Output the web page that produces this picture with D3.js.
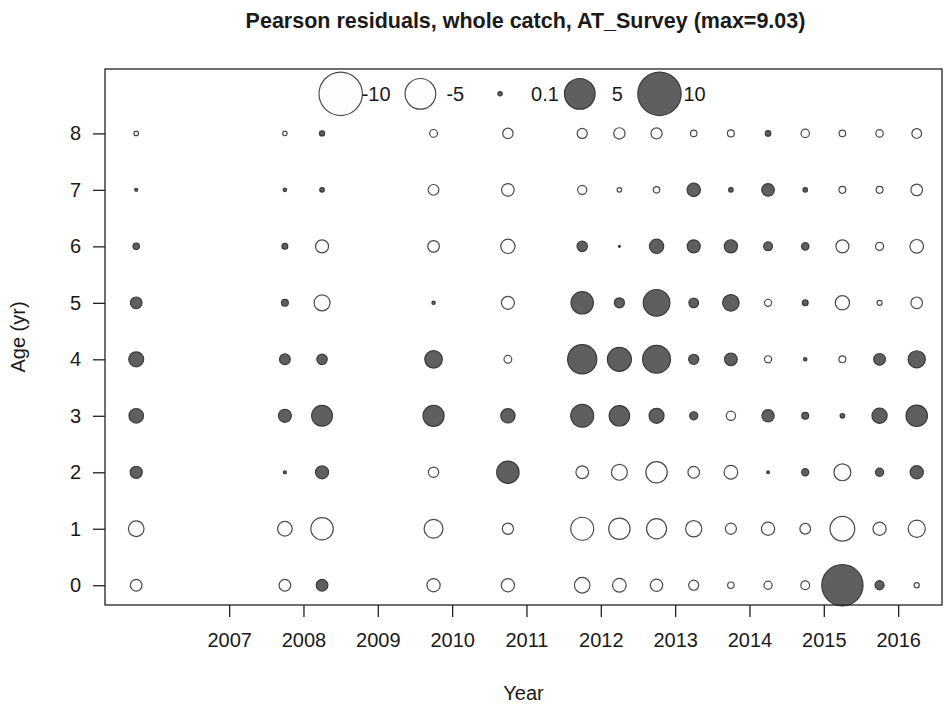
<!DOCTYPE html>
<html>
<head>
<meta charset="utf-8">
<script src="https://cdn.jsdelivr.net/npm/d3@7"></script>
<style>
  html, body { margin: 0; padding: 0; background: #fff; }
  svg text { font-family: "Liberation Sans", Arial, sans-serif; fill: #1a1a1a; }
</style>
</head>
<body>
<svg id="chart" width="944" height="706"></svg>
<script>
// Survey sampling times (year + season fraction) and ages
const sampleTimes = [2005.75, 2007.75, 2008.25, 2009.75, 2010.75, 2011.75, 2012.25,
                     2012.75, 2013.25, 2013.75, 2014.25, 2014.75, 2015.25, 2015.75, 2016.25];
const ages = [0, 1, 2, 3, 4, 5, 6, 7, 8];
const yearTicks = [2007, 2008, 2009, 2010, 2011, 2012, 2013, 2014, 2015, 2016];

// Pearson residuals by age, one value per sampling time
const resAge0 = [-0.72, -0.72, 0.72, -0.93, -0.93, -1.29, -0.99, -0.80, -0.54, -0.22, -0.35, -0.41, 9.03, 0.44, -0.14];
const resAge1 = [-1.29, -1.13, -2.66, -1.89, -0.68, -2.80, -2.43, -2.14, -1.39, -0.65, -0.93, -0.61, -3.24, -0.93, -1.56];
const resAge2 = [0.77, 0.05, 0.90, -0.57, 2.66, -0.85, -1.35, -2.43, -0.72, -0.99, 0.04, 0.27, -1.52, 0.35, 0.93];
const resAge3 = [1.13, 0.90, 2.30, 2.35, 1.08, 2.80, 2.22, 1.19, 0.35, -0.46, 0.80, 0.25, 0.11, 1.22, 2.43];
const resAge4 = [1.19, 0.61, 0.57, 1.63, -0.32, 4.53, 3.05, 4.13, 0.54, 0.85, -0.27, 0.06, -0.25, 0.72, 1.56];
const resAge5 = [0.72, 0.25, -1.35, 0.06, -0.90, 2.66, 0.54, 3.77, 0.50, 1.45, -0.27, 0.18, -1.08, -0.13, -0.72];
const resAge6 = [0.22, 0.18, -0.90, -0.72, -1.08, 0.57, 0.02, 1.08, 0.90, 0.93, 0.41, 0.29, -0.90, -0.35, -0.99];
const resAge7 = [0.05, 0.06, 0.11, -0.61, -0.85, -0.44, -0.11, -0.22, 0.95, 0.11, 0.85, 0.11, -0.25, -0.25, -0.72];
const resAge8 = [-0.11, -0.10, 0.14, -0.32, -0.57, -0.54, -0.68, -0.65, -0.22, -0.25, 0.16, -0.37, -0.22, -0.29, -0.50];

// Legend reference residuals
const legendValues = [-10, -5, 0.1, 5, 10];
const legendLabels = ["-10", "-5", "0.1", "5", "10"];

const titleText = "Pearson residuals, whole catch, AT_Survey (max=9.03)";

// ---- build long table ----
const byAge = [resAge0, resAge1, resAge2, resAge3, resAge4, resAge5, resAge6, resAge7, resAge8];
const cells = [];
ages.forEach((a, i) => {
  sampleTimes.forEach((t, j) => cells.push({ time: t, age: a, value: byAge[i][j] }));
});

// ---- layout ----
const plot = { left: 105, right: 942, top: 69, bottom: 605 };
const svg = d3.select("#chart");
svg.append("rect").attr("width", 944).attr("height", 706).attr("fill", "#fff");

const x = d3.scaleLinear().domain([2005.33, 2016.59]).range([plot.left, plot.right]);
const y = d3.scaleLinear().domain([-0.35, 9.14]).range([plot.bottom, plot.top]);
const r = d3.scaleSqrt().domain([0, 10]).range([0, 21.7]);

const posFill = "#5f5f5f", posStroke = "#3a3a3a";
const negFill = "#fdfdfd", negStroke = "#4a4a4a";

// bubbles
svg.append("g").selectAll("circle")
  .data(cells)
  .join("circle")
  .attr("cx", d => x(d.time))
  .attr("cy", d => y(d.age))
  .attr("r", d => Math.max(r(Math.abs(d.value)), 0.6))
  .attr("fill", d => d.value > 0 ? posFill : negFill)
  .attr("stroke", d => d.value > 0 ? posStroke : negStroke)
  .attr("stroke-width", 1.2);

// legend
const legendY = y(8.7);
const legendX0 = 340.7, legendStep = 79.7;
const legendTextDx = [21, 26, 31, 32, 24];
const lg = svg.append("g");
legendValues.forEach((v, i) => {
  const cx = legendX0 + i * legendStep;
  lg.append("circle")
    .attr("cx", cx).attr("cy", legendY)
    .attr("r", r(Math.abs(v)))
    .attr("fill", v > 0 ? posFill : negFill)
    .attr("stroke", v > 0 ? posStroke : negStroke)
    .attr("stroke-width", 1.2);
  lg.append("text")
    .attr("x", cx + legendTextDx[i]).attr("y", legendY)
    .attr("dy", "0.35em")
    .attr("font-size", 20)
    .text(legendLabels[i]);
});

// axes
const xAxis = d3.axisBottom(x).tickValues(yearTicks).tickFormat(d3.format("d"))
  .tickSize(12).tickPadding(16);
const gx = svg.append("g").attr("transform", `translate(0,${plot.bottom})`).call(xAxis);
gx.select(".domain").remove();

const yAxis = d3.axisLeft(y).tickValues(ages).tickFormat(d3.format("d"))
  .tickSize(12).tickPadding(12);
const gy = svg.append("g").attr("transform", `translate(${plot.left},0)`).call(yAxis);
gy.select(".domain").remove();

[gx, gy].forEach(g => {
  g.selectAll("line").attr("stroke", "#222").attr("stroke-width", 1.3);
  g.selectAll("text").attr("font-size", 20).attr("font-family", "Liberation Sans, Arial, sans-serif").attr("fill", "#1a1a1a");
});

// frame
svg.append("rect")
  .attr("x", plot.left).attr("y", plot.top)
  .attr("width", plot.right - plot.left).attr("height", plot.bottom - plot.top)
  .attr("fill", "none").attr("stroke", "#222").attr("stroke-width", 1.3);

// titles
svg.append("text")
  .attr("x", (plot.left + plot.right) / 2 + 2).attr("y", 28)
  .attr("text-anchor", "middle").attr("font-size", 21.5).attr("font-weight", "bold")
  .text(titleText);

svg.append("text")
  .attr("x", (plot.left + plot.right) / 2).attr("y", 700)
  .attr("text-anchor", "middle").attr("font-size", 20)
  .text("Year");

svg.append("text")
  .attr("transform", `translate(25,${(plot.top + plot.bottom) / 2}) rotate(-90)`)
  .attr("text-anchor", "middle").attr("font-size", 20)
  .text("Age (yr)");
</script>
</body>
</html>
